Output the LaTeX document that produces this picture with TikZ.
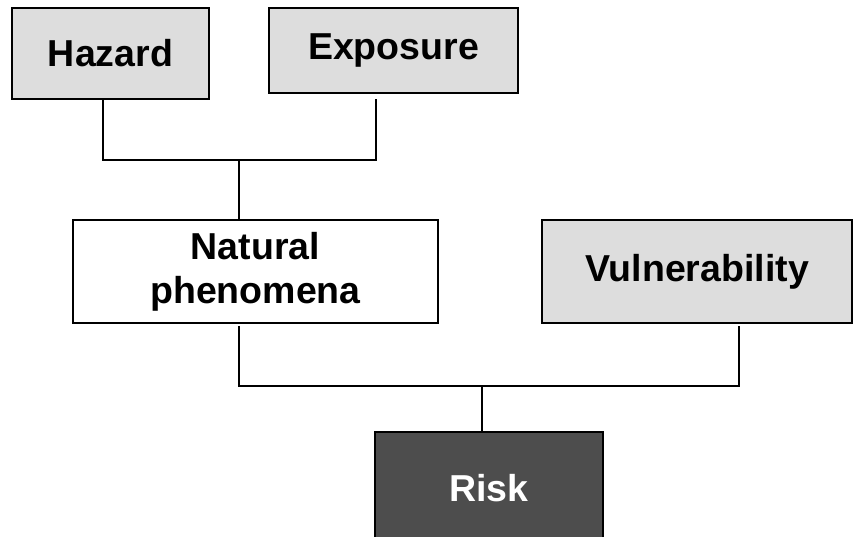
\documentclass[tikz,border=0pt]{standalone}
\usepackage{fontspec}
\setmainfont{Liberation Sans}
\begin{document}
\begin{tikzpicture}[x=1pt,y=-1pt,
  box/.style={draw=black, line width=1.6pt, rectangle, inner sep=0pt, align=center,
    font=\fontsize{37.5}{44}\selectfont\bfseries},
  lightbox/.style={box, fill=boxgray},
  darkbox/.style={box, fill=riskgray, text=white},
  conn/.style={draw=black, line width=1.6pt}]
\definecolor{boxgray}{HTML}{DDDDDD}
\definecolor{riskgray}{HTML}{4D4D4D}
\useasboundingbox (0,0) rectangle (853,536);
\clip (0,0) rectangle (853,536);
\node[lightbox, minimum width=197, minimum height=91] (haz) at (110.5,53.5) {Hazard};
\node[lightbox, minimum width=249, minimum height=85] (exp) at (393.5,50.5) {Exposure};
\node[box, fill=white, minimum width=365, minimum height=103] (nat) at (255.5,271.5) {Natural\\phenomena};
\node[lightbox, minimum width=310, minimum height=103] (vul) at (697,271.5) {Vulnerability};
\node[darkbox, minimum width=228, minimum height=112] (risk) at (489,488) {Risk};
\coordinate (j1) at (239,160);
\coordinate (j2) at (482,386);
\draw[conn] ([xshift=-7.5]haz.south) |- (j1) -| ([xshift=-17.5,yshift=-5]exp.south);
\draw[conn] (j1) -- (j1 |- nat.north);
\draw[conn] ([xshift=-16.5,yshift=-2]nat.south) |- (j2) -| ([xshift=42,yshift=-2]vul.south);
\draw[conn] (j2) -- (j2 |- risk.north);
\end{tikzpicture}
\end{document}
